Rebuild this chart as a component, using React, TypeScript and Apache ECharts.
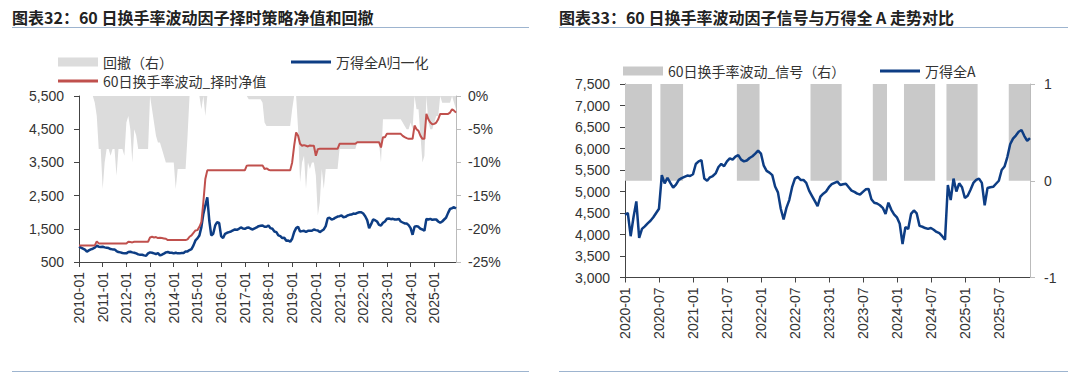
import React, { useEffect, useRef } from "react";
import * as echarts from "echarts";

// ---------- Left chart data (monthly, 2010-01 .. 2025-12) ----------
const leftYears = [2010, 2011, 2012, 2013, 2014, 2015, 2016, 2017, 2018, 2019, 2020, 2021, 2022, 2023, 2024, 2025];
const monthNames = ["01", "02", "03", "04", "05", "06", "07", "08", "09", "10", "11", "12"];
const leftDates: string[] = [];
leftYears.forEach((y) => monthNames.forEach((m) => leftDates.push(`${y}-${m}`)));

// 万得全A归一化
const windANormalized = [
  960, 930, 900, 870, 810, 850, 880, 900, 930, 990, 960, 950,
  960, 940, 930, 920, 890, 880, 880, 830, 800, 790, 770, 760,
  760, 800, 810, 790, 780, 760, 730, 720, 720, 700, 690, 760,
  790, 780, 760, 740, 770, 700, 720, 750, 790, 800, 780, 780,
  760, 780, 760, 760, 770, 770, 820, 820, 860, 890, 1000, 1150,
  1210, 1300, 1550, 1950, 2200, 2450, 1750, 1300, 1350, 1600, 1700, 1680,
  1280, 1220, 1350, 1380, 1400, 1420, 1450, 1480, 1470, 1500, 1540, 1510,
  1500, 1530, 1540, 1500, 1480, 1510, 1540, 1580, 1590, 1600, 1560, 1560,
  1600, 1520, 1500, 1420, 1400, 1300, 1280, 1220, 1230, 1140, 1150, 1110,
  1200, 1400, 1520, 1560, 1420, 1430, 1440, 1410, 1440, 1440, 1440, 1480,
  1460, 1450, 1400, 1440, 1480, 1580, 1820, 1830, 1780, 1800, 1840, 1870,
  1880, 1900, 1850, 1860, 1900, 1920, 1930, 1960, 1950, 1980, 2000, 2000,
  1960, 1880, 1760, 1520, 1640, 1780, 1760, 1720, 1620, 1600, 1680, 1720,
  1800, 1810, 1790, 1800, 1780, 1780, 1800, 1720, 1690, 1660, 1660, 1610,
  1520, 1320, 1560, 1580, 1560, 1500, 1480, 1440, 1800, 1780, 1800, 1770,
  1780, 1780, 1720, 1680, 1720, 1780, 1840, 1980, 2100, 2120, 2150, 2110,
];

// 60日换手率波动_择时净值
const strategyNav = [
  1000, 1000, 1000, 1000, 1000, 1000, 1000, 1000, 1000, 1120, 1060, 1060,
  1060, 1060, 1060, 1060, 1060, 1060, 1060, 1060, 1060, 1060, 1060, 1060,
  1060, 1110, 1100, 1090, 1110, 1110, 1110, 1110, 1110, 1110, 1110, 1110,
  1240, 1260, 1240, 1250, 1220, 1230, 1220, 1210, 1200, 1160, 1160, 1160,
  1160, 1160, 1160, 1160, 1160, 1160, 1160, 1180, 1260, 1300, 1380, 1450,
  1460, 1560, 1700, 2300, 3000, 3260, 3260, 3260, 3260, 3260, 3260, 3260,
  3260, 3260, 3260, 3260, 3260, 3260, 3260, 3260, 3260, 3260, 3260, 3260,
  3260, 3400, 3410, 3410, 3410, 3410, 3410, 3410, 3410, 3410, 3300, 3320,
  3280, 3260, 3260, 3260, 3260, 3260, 3260, 3260, 3260, 3260, 3260, 3260,
  3500, 4000, 4400, 4300, 4060, 4000, 4020, 4000, 3980, 4010, 4000, 4000,
  3700, 3900, 3910, 3910, 3910, 3910, 3910, 3910, 3910, 3910, 3910, 3910,
  4060, 4060, 4060, 4060, 4060, 4060, 4060, 4060, 4060, 4110, 4110, 4110,
  4110, 4110, 4110, 4110, 4110, 4110, 4110, 4110, 4110, 3950, 4260, 4260,
  4360, 4360, 4360, 4360, 4360, 4360, 4360, 4360, 4300, 4260, 4230, 4210,
  4210, 4210, 4610, 4500, 4450, 4300, 4210, 4210, 4960, 4800, 4700, 4650,
  4660, 4700, 4800, 4960, 4960, 4960, 4960, 4960, 5000, 5100, 5060, 5000,
];

// 回撤（右）, percent
const drawdownPct = [
  0, 0, 0, 0, 0, 0, 0, 0, -1, -3, -8, -8,
  -14, -10, -8, -8, -9, -8, -8, -12, -8, -8, -8, -9,
  -4, -3, -5, -10, -5, -6, -8, -8, -8, -8, -8, -8,
  0, -2, -4, -6, -7, -7, -8, -9, -10, -10, -10, -10,
  -10, -14, -11, -11, -11, -11, -11, -6, 0, 0, 0, 0,
  0, 0, -2, 0, -3, 0, 0, 0, 0, 0, 0, 0,
  0, 0, 0, 0, 0, 0, 0, 0, 0, 0, 0, 0,
  0, 0, -0.5, -0.5, -0.5, -0.5, -0.5, -0.5, -0.5, -1, -4, -4.5,
  -4.5, -4.5, -4.5, -4.5, -4.5, -4.5, -4.5, -4.5, -4.5, -4.5, -4.5, -4.5,
  -2, 0, 0, -5, -13, -10, -9, -14, -10, -11, -10, -10,
  -12, -18, -16, -11, -14, -11, -11, -11, -11, -11, -11, -11,
  -8, -8, -8, -8, -8, -8, -8, -8, -8, -7, -7, -7,
  -7, -7, -7, -7, -7, -7, -7, -7, -7, -10, -3.5, -3.5,
  -3.5, -3.5, -3.5, -3.5, -3.5, -3.5, -3.5, -3.5, -4, -4.5, -5, -5,
  -4, -5, 0, -2, -2, -6, -10, -9, 0, -4, -5, -5,
  -4, -3, -3, 0, -1, -1, -1, -1, -1, 0, -1, -2,
];

// ---------- Right chart data (semi-monthly, 2020-01 .. 2025-12) ----------
const rightYears = [2020, 2021, 2022, 2023, 2024, 2025];
const rightDates: string[] = [];
rightYears.forEach((y) => monthNames.forEach((m) => { rightDates.push(`${y}-${m}-01`); rightDates.push(`${y}-${m}-16`); }));

// 万得全A
const windA = [
  4460, 4500, 3960, 4400, 4770, 3920, 4130, 4190, 4260, 4320, 4400, 4500,
  4600, 5380, 5190, 5320, 5200, 5090, 5160, 5270, 5310, 5340, 5370, 5360,
  5400, 5640, 5700, 5730, 5300, 5250, 5330, 5360, 5420, 5570, 5640, 5590,
  5700, 5770, 5740, 5810, 5845, 5740, 5700, 5720, 5780, 5820, 5880, 5950,
  5880, 5600, 5480, 5440, 5380, 5115, 4980, 4600, 4350, 4620, 4800, 5100,
  5300, 5340, 5270, 5270, 5200, 5020, 4900, 4780, 4660, 4880, 4950, 5000,
  5100, 5170, 5200, 5230, 5150, 5170, 5180, 5100, 5020, 4990, 4950, 4930,
  4990, 5050, 5060, 4820, 4740, 4720, 4680, 4620, 4480, 4740, 4580, 4470,
  4400, 4250, 3780, 4170, 4130, 4480, 4560, 4490, 4200, 4180, 4150, 4130,
  4150, 4110, 4060, 4030, 3960, 3880, 5150, 4800, 5300, 5000, 5190, 5100,
  4850, 4900, 5040, 5200, 5270, 5300, 5200, 4680, 5080, 5100, 5110, 5180,
  5250, 5500, 5580, 5800, 6100, 6230, 6300, 6390, 6430, 6290, 6180, 6240,
];

// 60日换手率波动_信号（右）
const signal = [
  1, 1, 1, 1, 1, 1, 1, 1, 1, 1, 0, 0,
  0, 1, 1, 1, 1, 1, 1, 1, 1, 0, 0, 0,
  0, 0, 0, 0, 0, 0, 0, 0, 0, 0, 0, 0,
  0, 0, 0, 0, 1, 1, 1, 1, 1, 1, 1, 1,
  0, 0, 0, 0, 0, 0, 0, 0, 0, 0, 0, 0,
  0, 0, 0, 0, 0, 0, 1, 1, 1, 1, 1, 1,
  1, 1, 1, 1, 1, 0, 0, 0, 0, 0, 0, 0,
  0, 0, 0, 0, 1, 1, 1, 1, 1, 0, 0, 0,
  0, 0, 0, 1, 1, 1, 1, 1, 1, 1, 1, 1,
  1, 1, 0, 0, 0, 0, 1, 1, 1, 1, 1, 1,
  1, 1, 1, 1, 1, 0, 0, 0, 0, 0, 0, 0,
  0, 0, 0, 0, 1, 1, 1, 1, 1, 1, 1, 1,
];

const NUM_FONT = '"Liberation Sans", Arial, sans-serif';
const CJK_FONT = '"Noto Sans CJK SC", sans-serif';
const TEXT = "#333333";
const BLUE = "#0d3d84";
const RED = "#c0504d";

const fmtThousands = (v: number) => v.toLocaleString("en-US");

export default function App() {
  const ref = useRef<HTMLDivElement>(null);

  useEffect(() => {
    if (!ref.current) return;
    const chart = echarts.init(ref.current, undefined, { renderer: "svg" });

    const axisLabelBase = { fontFamily: NUM_FONT, fontSize: 14, color: TEXT };
    const legendBase = {
      padding: 0,
      itemWidth: 40,
      itemGap: 0,
      textStyle: { fontFamily: CJK_FONT, fontSize: 14, color: TEXT },
      selectedMode: false,
    };

    chart.setOption({
      animation: false,
      backgroundColor: "#ffffff",
      graphic: [
        { type: "text", left: 12, top: 9, style: { text: "图表32：60 日换手率波动因子择时策略净值和回撤", font: `bold 16px ${CJK_FONT}`, fill: "#222" } },
        { type: "text", left: 559, top: 9, style: { text: "图表33：60 日换手率波动因子信号与万得全 A 走势对比", font: `bold 16px ${CJK_FONT}`, fill: "#222" } },
        { type: "line", shape: { x1: 12, y1: 27.5, x2: 529, y2: 27.5 }, style: { stroke: "#9db4cf", lineWidth: 1 } },
        { type: "line", shape: { x1: 559, y1: 27.5, x2: 1068, y2: 27.5 }, style: { stroke: "#9db4cf", lineWidth: 1 } },
        { type: "line", shape: { x1: 12, y1: 371.5, x2: 529, y2: 371.5 }, style: { stroke: "#9db4cf", lineWidth: 1 } },
        { type: "line", shape: { x1: 559, y1: 371.5, x2: 1068, y2: 371.5 }, style: { stroke: "#9db4cf", lineWidth: 1 } },
      ],
      legend: [
        { ...legendBase, left: 58, top: 55, itemHeight: 9, data: [{ name: "回撤（右）", icon: "rect" }] },
        { ...legendBase, left: 291, top: 55, itemHeight: 3, data: [{ name: "万得全A归一化", icon: "rect" }] },
        { ...legendBase, left: 58, top: 74, itemHeight: 3, data: [{ name: "60日换手率波动_择时净值", icon: "rect" }] },
        { ...legendBase, left: 623, top: 64, itemHeight: 9, data: [{ name: "60日换手率波动_信号（右）", icon: "rect" }] },
        { ...legendBase, left: 880, top: 64, itemHeight: 3, data: [{ name: "万得全A", icon: "rect" }] },
      ],
      grid: [
        { left: 79, top: 96, width: 377, height: 166 },
        { left: 625, top: 84, width: 405, height: 193.5 },
      ],
      xAxis: [
        {
          type: "category",
          gridIndex: 0,
          data: leftDates,
          boundaryGap: false,
          axisLine: { onZero: false, lineStyle: { color: "#444", width: 1 } },
          axisTick: { interval: 11, length: 5, lineStyle: { color: "#444" } },
          axisLabel: { ...axisLabelBase, interval: 11, rotate: 90, margin: 10 },
          splitLine: { show: false },
        },
        {
          type: "category",
          gridIndex: 1,
          data: rightDates,
          boundaryGap: false,
          axisLine: { onZero: false, lineStyle: { color: "#444", width: 1 } },
          axisTick: { interval: 11, length: 5, lineStyle: { color: "#444" } },
          axisLabel: { ...axisLabelBase, interval: 11, rotate: 90, margin: 10, formatter: (v: string) => v.slice(0, 7) },
          splitLine: { show: false },
        },
      ],
      yAxis: [
        {
          type: "value", gridIndex: 0, position: "left", min: 500, max: 5500, interval: 1000,
          axisLine: { show: true, onZero: false, lineStyle: { color: "#444" } },
          axisTick: { show: true, length: 5, lineStyle: { color: "#444" } },
          axisLabel: { ...axisLabelBase, margin: 15, formatter: fmtThousands },
          splitLine: { show: false },
        },
        {
          type: "value", gridIndex: 0, position: "right", min: -25, max: 0, interval: 5,
          axisLine: { show: true, onZero: false, lineStyle: { color: "#bbbbbb" } },
          axisTick: { show: true, length: 5, lineStyle: { color: "#bbbbbb" } },
          axisLabel: { ...axisLabelBase, margin: 12, formatter: (v: number) => `${v}%` },
          splitLine: { show: false },
        },
        {
          type: "value", gridIndex: 1, position: "left", min: 3000, max: 7500, interval: 500,
          axisLine: { show: true, onZero: false, lineStyle: { color: "#444" } },
          axisTick: { show: true, length: 5, lineStyle: { color: "#444" } },
          axisLabel: { ...axisLabelBase, margin: 15, formatter: fmtThousands },
          splitLine: { show: false },
        },
        {
          type: "value", gridIndex: 1, position: "right", min: -1, max: 1, interval: 1,
          axisLine: { show: true, onZero: false, lineStyle: { color: "#bbbbbb" } },
          axisTick: { show: true, length: 5, lineStyle: { color: "#bbbbbb" } },
          axisLabel: { ...axisLabelBase, margin: 14 },
          splitLine: { show: false },
        },
      ],
      series: [
        {
          name: "回撤（右）", type: "line", xAxisIndex: 0, yAxisIndex: 1, data: drawdownPct,
          symbol: "none", color: "#dcdcdc", lineStyle: { width: 0, opacity: 0 },
          areaStyle: { color: "#dcdcdc", opacity: 1 }, z: 1,
        },
        {
          name: "万得全A归一化", type: "line", xAxisIndex: 0, yAxisIndex: 0, data: windANormalized,
          symbol: "none", color: BLUE, lineStyle: { width: 2.5, color: BLUE }, z: 3,
        },
        {
          name: "60日换手率波动_择时净值", type: "line", xAxisIndex: 0, yAxisIndex: 0, data: strategyNav,
          symbol: "none", color: RED, lineStyle: { width: 2, color: RED }, z: 4,
        },
        {
          name: "60日换手率波动_信号（右）", type: "line", xAxisIndex: 1, yAxisIndex: 3, data: signal,
          step: "middle", symbol: "none", color: "#c9c9c9", lineStyle: { width: 0, opacity: 0 },
          areaStyle: { color: "#c9c9c9", opacity: 1 }, z: 1,
        },
        {
          name: "万得全A", type: "line", xAxisIndex: 1, yAxisIndex: 2, data: windA,
          symbol: "none", color: BLUE, lineStyle: { width: 2.5, color: BLUE }, z: 3,
        },
      ],
    });

    return () => chart.dispose();
  }, []);

  return (
    <div
      ref={ref}
      style={{ position: "fixed", left: 0, top: 0, width: 1080, height: 375, background: "#ffffff" }}
    />
  );
}
